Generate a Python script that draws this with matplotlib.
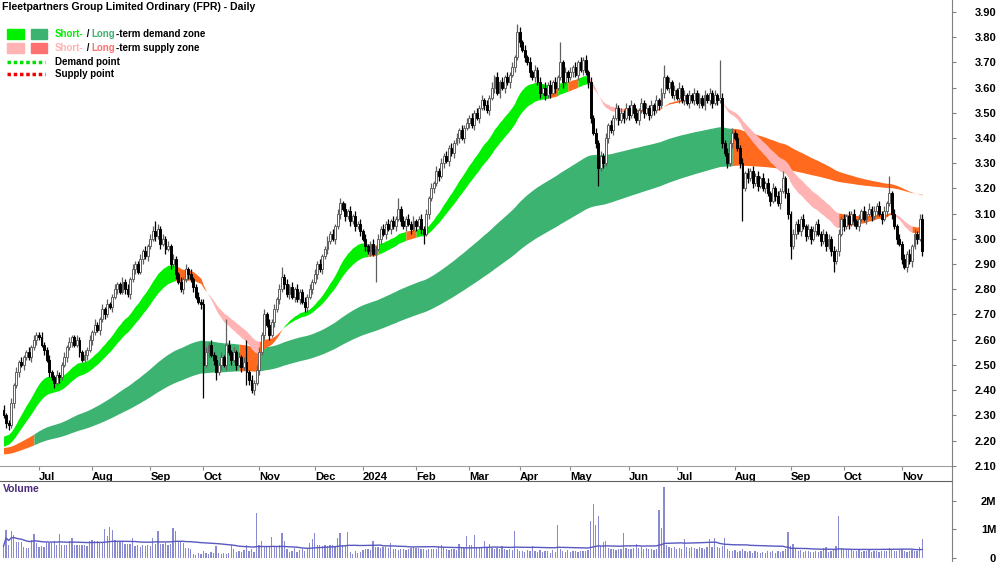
import numpy as np
import pandas as pd
import matplotlib
matplotlib.use("Agg")
import matplotlib.pyplot as plt
from matplotlib.patches import Rectangle
from matplotlib.lines import Line2D

plt.rcParams['font.family'] = ['Liberation Sans', 'DejaVu Sans']

# daily closes, one row per month (Jun 2023 .. Nov 2024)
close = [
    2.30, 2.27, 2.26, 2.35, 2.42, 2.47, 2.51, 2.50, 2.53, 2.55, 2.53, 2.57, 2.60, 2.62,
    2.61, 2.58, 2.56, 2.52, 2.47, 2.45, 2.43, 2.46, 2.45, 2.50, 2.53, 2.57, 2.59, 2.61, 2.58, 2.60, 2.55, 2.52, 2.54, 2.56, 2.60,
    2.63, 2.66, 2.64, 2.68, 2.72, 2.70, 2.74, 2.73, 2.77, 2.80, 2.82, 2.79, 2.83, 2.80, 2.78, 2.84, 2.88, 2.90, 2.87, 2.92, 2.95, 2.93, 2.97,
    3.00, 3.03, 3.01, 3.04, 2.98, 3.00, 2.96, 2.97, 2.90, 2.92, 2.86, 2.83, 2.80, 2.84, 2.88, 2.86, 2.84, 2.81, 2.77, 2.75, 2.74,
    2.50, 2.55, 2.58, 2.54, 2.52, 2.47, 2.50, 2.53, 2.50, 2.58, 2.55, 2.52, 2.55, 2.50, 2.53, 2.49, 2.51, 2.47, 2.44, 2.40, 2.43, 2.48,
    2.55, 2.62, 2.70, 2.66, 2.62, 2.67, 2.72, 2.76, 2.80, 2.85, 2.82, 2.78, 2.81, 2.77, 2.80, 2.76, 2.79, 2.75, 2.73, 2.77, 2.80, 2.83,
    2.86, 2.90, 2.88, 2.93, 2.96, 2.99, 3.02, 3.00, 3.05, 3.10, 3.14, 3.12, 3.09, 3.11, 3.07, 3.09, 3.05, 3.06, 3.03,
    3.00, 2.97, 2.95, 2.98, 2.94, 2.96, 3.00, 3.04, 3.02, 3.06, 3.04, 3.07, 3.05, 3.08, 3.12, 3.07, 3.05, 3.08, 3.06, 3.04, 3.07,
    3.05, 3.08, 3.04, 3.02, 3.10, 3.16, 3.20, 3.22, 3.27, 3.25, 3.30, 3.33, 3.31, 3.36, 3.34, 3.38, 3.40, 3.43, 3.40, 3.44, 3.46,
    3.48, 3.45, 3.50, 3.48, 3.52, 3.55, 3.53, 3.51, 3.56, 3.60, 3.64, 3.58, 3.62, 3.60, 3.64, 3.62, 3.65, 3.68, 3.72, 3.82,
    3.78, 3.75, 3.72, 3.70, 3.66, 3.64, 3.67, 3.62, 3.58, 3.60, 3.57, 3.61, 3.58, 3.62, 3.60, 3.64, 3.70, 3.62, 3.66, 3.64,
    3.66, 3.68, 3.65, 3.70, 3.67, 3.71, 3.66, 3.62, 3.48, 3.42, 3.38, 3.28, 3.33, 3.30, 3.40, 3.45, 3.43, 3.48, 3.52, 3.47, 3.50, 3.48, 3.52,
    3.49, 3.53, 3.50, 3.47, 3.51, 3.54, 3.50, 3.52, 3.49, 3.53, 3.51, 3.55, 3.53, 3.58, 3.64, 3.60, 3.62, 3.57, 3.59,
    3.56, 3.60, 3.55, 3.57, 3.54, 3.57, 3.55, 3.58, 3.54, 3.56, 3.53, 3.57, 3.55, 3.58, 3.54, 3.57, 3.55, 3.56, 3.38, 3.34, 3.30, 3.38, 3.42,
    3.40, 3.36, 3.30, 3.20, 3.26, 3.24, 3.27, 3.22, 3.25, 3.21, 3.24, 3.20, 3.22, 3.18, 3.15, 3.20, 3.17, 3.14, 3.19, 3.24, 3.18, 3.10,
    2.97, 3.02, 3.06, 3.03, 3.08, 3.05, 3.01, 3.04, 3.00, 3.03, 3.06, 3.02, 2.99, 3.02, 2.97, 3.00, 2.95, 2.91, 2.95, 3.02, 3.08,
    3.05, 3.09, 3.06, 3.10, 3.07, 3.05, 3.08, 3.11, 3.08, 3.10, 3.12, 3.09, 3.11, 3.13, 3.10, 3.08, 3.11, 3.14, 3.18, 3.10, 3.05, 3.00, 2.98,
    2.92, 2.89, 2.94, 2.91, 2.97, 3.02, 3.00, 3.08, 2.95,
]
first_open = 2.32

# wick lengths above / below the candle body, in cents
wick_up = [
    2, 1, 1, 2, 1, 2, 1, 2, 1, 1, 2, 1, 2, 1, 1, 2, 1, 1, 2, 1,
    1, 2, 1, 1, 2, 1, 2, 1, 1, 2, 1, 1, 2, 1, 2, 1, 2, 1, 1, 2,
    1, 2, 1, 1, 2, 1, 1, 2, 1, 2, 1, 2, 1, 1, 2, 1, 2, 1, 2, 2,
    4, 2, 1, 2, 1, 2, 1, 2, 1, 1, 2, 1, 2, 1, 2, 1, 1, 2, 1, 2,
    2, 1, 2, 1, 2, 1, 2, 1, 10, 2, 1, 2, 1, 2, 1, 2, 9, 1, 2, 1,
    2, 2, 1, 2, 1, 2, 1, 2, 1, 2, 4, 1, 2, 1, 2, 1, 2, 1, 1, 2,
    1, 2, 1, 2, 1, 2, 1, 1, 2, 1, 2, 1, 2, 2, 1, 2, 1, 2, 1, 2,
    1, 2, 1, 2, 1, 1, 2, 1, 2, 1, 2, 1, 2, 1, 2, 1, 4, 1, 2, 1,
    2, 1, 2, 1, 1, 2, 1, 2, 1, 2, 1, 2, 1, 2, 1, 2, 1, 2, 1, 2,
    1, 2, 1, 2, 1, 2, 1, 2, 1, 2, 1, 2, 1, 2, 1, 2, 1, 2, 1, 2,
    1, 2, 1, 3, 2, 1, 2, 1, 2, 1, 2, 1, 2, 1, 2, 1, 2, 1, 2, 1,
    8, 1, 2, 1, 2, 1, 2, 1, 2, 1, 2, 1, 2, 1, 2, 1, 2, 1, 2, 1,
    2, 1, 2, 1, 2, 1, 2, 1, 2, 1, 2, 1, 2, 1, 2, 1, 2, 1, 2, 1,
    2, 5, 1, 2, 1, 2, 1, 2, 1, 2, 1, 2, 1, 2, 1, 2, 1, 2, 1, 2,
    1, 2, 1, 15, 2, 1, 2, 1, 2, 1, 2, 1, 2, 1, 2, 1, 2, 1, 2, 1,
    2, 1, 2, 1, 2, 1, 2, 1, 3, 1, 2, 1, 2, 1, 2, 1, 2, 1, 2, 1,
    2, 1, 2, 1, 2, 1, 2, 1, 2, 1, 2, 1, 2, 1, 2, 1, 2, 1, 2, 1,
    2, 1, 2, 1, 2, 1, 2, 1, 2, 1, 7, 1, 2, 1, 2, 1, 2, 1, 2, 1,
    2, 1, 2, 2,
]
wick_dn = [
    1, 2, 2, 1, 2, 1, 2, 1, 2, 1, 1, 2, 1, 2, 1, 1, 2, 1, 2, 1,
    2, 1, 2, 1, 1, 2, 1, 2, 1, 1, 2, 1, 1, 2, 1, 2, 1, 1, 2, 1,
    2, 1, 1, 2, 1, 2, 1, 1, 2, 1, 2, 1, 2, 1, 1, 2, 1, 2, 1, 1,
    2, 1, 2, 1, 2, 1, 2, 1, 2, 1, 1, 2, 1, 2, 1, 2, 1, 1, 2, 13,
    1, 2, 1, 2, 3, 1, 2, 1, 2, 1, 2, 1, 2, 1, 2, 1, 5, 2, 1, 2,
    1, 2, 1, 2, 1, 2, 1, 2, 1, 2, 1, 2, 1, 2, 1, 2, 1, 2, 1, 2,
    2, 1, 2, 1, 2, 1, 2, 1, 2, 1, 1, 2, 1, 2, 1, 2, 1, 2, 1, 2,
    1, 2, 1, 2, 1, 2, 1, 11, 1, 2, 1, 2, 1, 2, 1, 2, 1, 2, 1, 2,
    1, 2, 1, 2, 1, 2, 4, 1, 2, 1, 2, 1, 2, 1, 2, 1, 2, 1, 2, 1,
    2, 1, 2, 1, 2, 1, 2, 1, 2, 1, 2, 1, 2, 1, 2, 1, 2, 1, 2, 1,
    2, 1, 2, 1, 2, 1, 2, 1, 2, 1, 2, 1, 2, 1, 2, 1, 2, 1, 2, 1,
    1, 2, 1, 2, 1, 2, 1, 2, 1, 2, 1, 2, 2, 1, 2, 7, 1, 2, 1, 2,
    1, 2, 1, 2, 1, 2, 1, 2, 1, 2, 1, 2, 1, 2, 1, 2, 1, 2, 1, 2,
    1, 2, 1, 2, 1, 2, 1, 2, 1, 2, 1, 2, 1, 2, 1, 2, 1, 2, 1, 2,
    2, 1, 2, 1, 2, 1, 2, 1, 2, 1, 1, 2, 13, 1, 2, 1, 2, 1, 2, 1,
    1, 2, 1, 2, 1, 2, 1, 2, 1, 2, 2, 5, 1, 2, 1, 2, 1, 2, 1, 2,
    1, 2, 1, 2, 1, 2, 1, 2, 4, 1, 2, 1, 2, 1, 2, 1, 2, 1, 2, 1,
    1, 2, 1, 2, 1, 2, 1, 2, 1, 2, 1, 2, 1, 2, 1, 2, 1, 2, 1, 2,
    1, 2, 1, 2,
]

# daily volume, millions of shares
volume = [
    0.42, 0.98, 0.45, 0.95, 0.80, 0.56, 0.55, 0.56, 0.38, 0.35,
    0.36, 0.63, 0.84, 0.53, 0.40, 0.42, 0.39, 0.53, 0.52, 0.54,
    0.60, 0.45, 0.84, 0.44, 0.46, 0.45, 0.60, 0.70, 0.47, 0.45,
    0.44, 0.46, 0.45, 0.43, 0.60, 0.62, 0.58, 0.60, 0.55, 0.52,
    1.00, 0.77, 1.10, 0.98, 0.62, 0.60, 0.58, 0.61, 0.50, 0.48,
    0.50, 0.70, 0.42, 0.45, 0.40, 0.44, 0.41, 0.45, 0.43, 0.70,
    0.50, 0.94, 0.50, 0.48, 0.52, 0.45, 0.48, 1.05, 0.94, 0.55,
    0.55, 0.52, 0.35, 0.36, 0.33, 0.15, 0.12, 0.18, 0.14, 0.25,
    0.18, 0.15, 0.20, 0.17, 0.42, 0.16, 0.14, 0.18, 0.15, 0.16,
    0.47, 0.30, 0.22, 0.25, 0.20, 0.28, 0.47, 0.25, 0.30, 0.22,
    1.58, 0.47, 0.60, 0.40, 0.38, 0.42, 0.72, 0.40, 0.42, 0.44,
    0.88, 0.60, 0.30, 0.22, 0.25, 0.35, 0.20, 0.28, 0.30, 0.25,
    0.32, 0.53, 0.65, 0.88, 0.45, 0.44, 0.42, 0.46, 0.43, 0.45,
    0.44, 0.40, 0.70, 0.88, 0.45, 0.42, 0.92, 0.20, 0.15, 0.25,
    0.18, 0.22, 0.28, 0.30, 0.32, 0.28, 0.60, 0.38, 0.40, 0.36,
    0.38, 0.40, 0.35, 0.53, 0.30, 0.32, 0.28, 0.30, 0.33, 0.29,
    0.30, 0.35, 0.38, 0.35, 0.36, 0.30, 0.32, 0.28, 0.30, 0.31,
    0.33, 0.30, 0.42, 0.44, 0.40, 0.30, 0.29, 0.31, 0.30, 0.28,
    0.48, 0.38, 0.36, 0.77, 0.45, 0.44, 0.82, 0.38, 0.37, 0.36,
    0.60, 0.40, 0.50, 0.35, 0.33, 0.36, 0.30, 0.42, 0.32, 0.28,
    0.30, 0.28, 0.94, 0.30, 0.26, 0.25, 0.22, 0.28, 0.24, 0.42,
    0.25, 0.22, 0.28, 0.20, 0.26, 0.24, 0.18, 0.27, 0.22, 1.15,
    0.30, 0.25, 0.22, 0.28, 0.20, 0.24, 0.26, 0.21, 0.25, 0.23,
    0.24, 0.28, 1.30, 1.90, 1.15, 1.47, 0.42, 0.56, 0.60, 0.35,
    0.30, 0.33, 0.28, 0.32, 0.30, 0.88, 0.34, 0.33, 0.30, 0.35,
    0.50, 0.34, 0.40, 0.33, 0.36, 0.30, 0.32, 0.28, 0.30, 1.68,
    1.05, 2.50, 0.45, 0.38, 0.35, 0.40, 0.33, 0.36, 0.30, 0.65,
    0.38, 0.34, 0.40, 0.36, 0.32, 0.38, 0.35, 0.33, 0.37, 0.65,
    0.40, 0.70, 0.38, 0.35, 0.42, 0.70, 0.30, 0.26, 0.24, 0.28,
    0.22, 0.26, 0.30, 0.24, 0.20, 0.23, 0.18, 0.25, 0.21, 0.19,
    0.22, 0.18, 0.24, 0.20, 0.23, 0.19, 0.25, 0.22, 0.26, 0.30,
    0.90, 0.42, 0.50, 0.30, 0.25, 0.28, 0.22, 0.26, 0.24, 0.20,
    0.22, 0.25, 0.20, 0.24, 0.35, 0.40, 0.22, 0.26, 0.30, 0.42,
    1.47, 0.35, 0.30, 0.33, 0.28, 0.30, 0.25, 0.24, 0.27, 0.22,
    0.25, 0.23, 0.27, 0.22, 0.26, 0.24, 0.21, 0.25, 0.23, 0.26,
    0.35, 0.28, 0.25, 0.24, 0.27, 0.30, 0.26, 0.22, 0.25, 0.28,
    0.24, 0.26, 0.38, 0.65,
]

# zone edges: EMA spans and the value each EMA had before the first bar
short_spans = [24, 37]
short_start = [2.21, 2.17]
long_spans = [120, 198]
long_start = [2.17, 2.145]

asx_holidays = ["2023-12-25", "2023-12-26", "2024-01-01", "2024-01-26",
                "2024-03-29", "2024-04-01", "2024-04-25", "2024-06-10"]

# zone state by bar range: demand / supply / mixed
short_states = [(0, 68, "demand"), (68, 80, "mixed"), (80, 101, "supply"),
                (101, 110, "mixed"), (110, 144, "demand"), (144, 148, "mixed"),
                (148, 159, "demand"), (159, 163, "mixed"), (163, 216, "demand"),
                (216, 219, "mixed"), (219, 223, "demand"), (223, 227, "mixed"),
                (227, 231, "demand"), (231, 245, "supply"), (245, 284, "mixed"),
                (284, 330, "supply"), (330, 351, "mixed"), (351, 359, "supply"),
                (359, 363, "mixed")]
long_states = [(0, 12, "mixed"), (12, 93, "demand"), (93, 101, "mixed"),
               (101, 288, "demand"), (288, 363, "mixed")]

C_SHORT_DEM = "#00F000"
C_LONG_DEM = "#3CB371"
C_SHORT_SUP = "#FFB3B3"
C_LONG_SUP = "#FF7070"
C_MIXED = "#FF6A1E"


def ema(values, span, start):
    a = 2.0 / (span + 1)
    out, v = [], start
    for x in values:
        v = v + a * (x - v)
        out.append(v)
    return np.array(out)


n = len(close)
days = pd.bdate_range("2023-06-13", "2024-12-31")
days = days[~days.isin(pd.to_datetime(asx_holidays))][:n]
idx = np.arange(n)

c = np.array(close)
o = np.array([first_open] + close[:-1])
hi = np.maximum(o, c) + np.array(wick_up) / 100
lo = np.minimum(o, c) - np.array(wick_dn) / 100

s_fast = ema(close, short_spans[0], short_start[0])
s_slow = ema(close, short_spans[1], short_start[1])
l_fast = ema(close, long_spans[0], long_start[0])
l_slow = ema(close, long_spans[1], long_start[1])

vol = np.array(volume)
vol_ma = pd.Series(vol).rolling(50, min_periods=1).mean().values

fig = plt.figure(figsize=(10, 5.62), dpi=100)
ax = fig.add_axes([0, 1 - 466 / 562, 0.952, 466 / 562])
vax = fig.add_axes([0, 0, 0.952, 81 / 562])


def draw_zone(a, b, states, colours):
    for s, e, st in states:
        sl = slice(s, min(e + 1, n))
        ax.fill_between(idx[sl], a[sl], b[sl], color=colours[st], lw=0, zorder=1)


draw_zone(l_fast, l_slow, long_states,
          {"demand": C_LONG_DEM, "supply": C_LONG_SUP, "mixed": C_MIXED})
draw_zone(s_fast, s_slow, short_states,
          {"demand": C_SHORT_DEM, "supply": C_SHORT_SUP, "mixed": C_MIXED})

# candles: hollow when up, black when down
up = c >= o
ax.vlines(idx[up], lo[up], hi[up], color="#606060", lw=0.9, zorder=2)
ax.vlines(idx[~up], lo[~up], hi[~up], color="black", lw=0.9, zorder=2)
body_lo = np.minimum(o, c)
body_h = np.maximum(np.abs(c - o), 0.003)
ax.bar(idx[up], body_h[up], bottom=body_lo[up], width=0.75, color="white",
       edgecolor="#606060", lw=0.7, zorder=3)
ax.bar(idx[~up], body_h[~up], bottom=body_lo[~up], width=0.75, color="black",
       edgecolor="black", lw=0.7, zorder=3)

xmin, xmax = -1.4, 374.8
ax.set_xlim(xmin, xmax)
ax.set_ylim(2.099, 3.947)

# month ticks
m = pd.Series(days.to_period("M"))
first = np.where(m.values[1:] != m.values[:-1])[0] + 1
labels = ["2024" if days[i].month == 1 else days[i].strftime("%b") for i in first]
ax.set_xticks(first)
ax.set_xticklabels(labels, ha="left", fontsize=8, fontweight="bold")
ax.tick_params(axis="x", length=3, direction="out", color="#909090", pad=1)

yt = np.round(np.arange(2.1, 3.91, 0.1), 2)
ax.yaxis.tick_right()
ax.set_yticks(yt)
ax.set_yticklabels([f"{v:.2f}" for v in yt], fontsize=8, fontweight="bold")
ax.tick_params(axis="y", length=3, direction="out", color="#808080", pad=28.8)
for t in ax.get_yticklabels():
    t.set_horizontalalignment("right")

for s in ["top", "left"]:
    ax.spines[s].set_visible(False)
ax.spines["right"].set_color("#808080")
ax.spines["bottom"].set_color("#a0a0a0")

# volume panel
vax.bar(idx, vol, width=0.5, color="#8A8AD0", zorder=2)
vax.plot(idx, vol_ma, color="#5858C0", lw=1.0, zorder=3)
vax.set_xlim(xmin, xmax)
vax.set_ylim(-0.14, 2.70)
vax.set_xticks([])
vax.yaxis.tick_right()
vax.set_yticks([0, 1, 2])
vax.set_yticklabels(["0", "1M", "2M"], fontsize=8, fontweight="bold")
vax.tick_params(axis="y", length=3, direction="out", color="#808080", pad=28.8)
for t in vax.get_yticklabels():
    t.set_horizontalalignment("right")
for s in ["bottom", "left"]:
    vax.spines[s].set_visible(False)
vax.spines["right"].set_color("#808080")
vax.spines["top"].set_color("#606060")

fig.add_artist(Line2D([0.952, 0.952], [1 - 466 / 562, 1 - 481 / 562],
                      color="#808080", lw=0.8))
fig.text(3 / 1000, 1 - 489 / 562, "Volume", color="#4B2A7B", fontsize=7.5,
         fontweight="bold", va="center")


# title and legend, placed in pixel coordinates
def fx(x):
    return x / 1000


def fy(y):
    return 1 - y / 562


fig.text(fx(2), fy(7), "Fleetpartners Group Limited Ordinary (FPR) - Daily",
         fontsize=7.6, fontweight="bold", va="center")

renderer = fig.canvas.get_renderer()


def rich(x, y, parts):
    for s, col in parts:
        t = fig.text(fx(x), fy(y), s, color=col, fontsize=7, fontweight="bold",
                     va="center")
        x += t.get_window_extent(renderer).width


for y, c1, c2 in [(34, C_SHORT_DEM, C_LONG_DEM), (48, C_SHORT_SUP, C_LONG_SUP)]:
    fig.add_artist(Rectangle((fx(7), fy(y + 5)), 17 / 1000, 10 / 562, color=c1))
    fig.add_artist(Rectangle((fx(31), fy(y + 5)), 16 / 1000, 10 / 562, color=c2))

rich(55, 34, [("Short-", C_SHORT_DEM), (" / ", "black"), ("Long", C_LONG_DEM),
              ("-term demand zone", "black")])
rich(55, 48, [("Short-", C_SHORT_SUP), (" / ", "black"), ("Long", C_LONG_SUP),
              ("-term supply zone", "black")])

fig.add_artist(Line2D([fx(7), fx(45)], [fy(62), fy(62)], color="#00E000",
                      lw=2.5, ls=(0, (1, 0.8))))
fig.add_artist(Line2D([fx(7), fx(45)], [fy(74), fy(74)], color="#F00000",
                      lw=2.5, ls=(0, (1, 0.8))))
fig.text(fx(55), fy(62), "Demand point", fontsize=7, fontweight="bold", va="center")
fig.text(fx(55), fy(74), "Supply point", fontsize=7, fontweight="bold", va="center")

fig.savefig("out.png", dpi=100)
